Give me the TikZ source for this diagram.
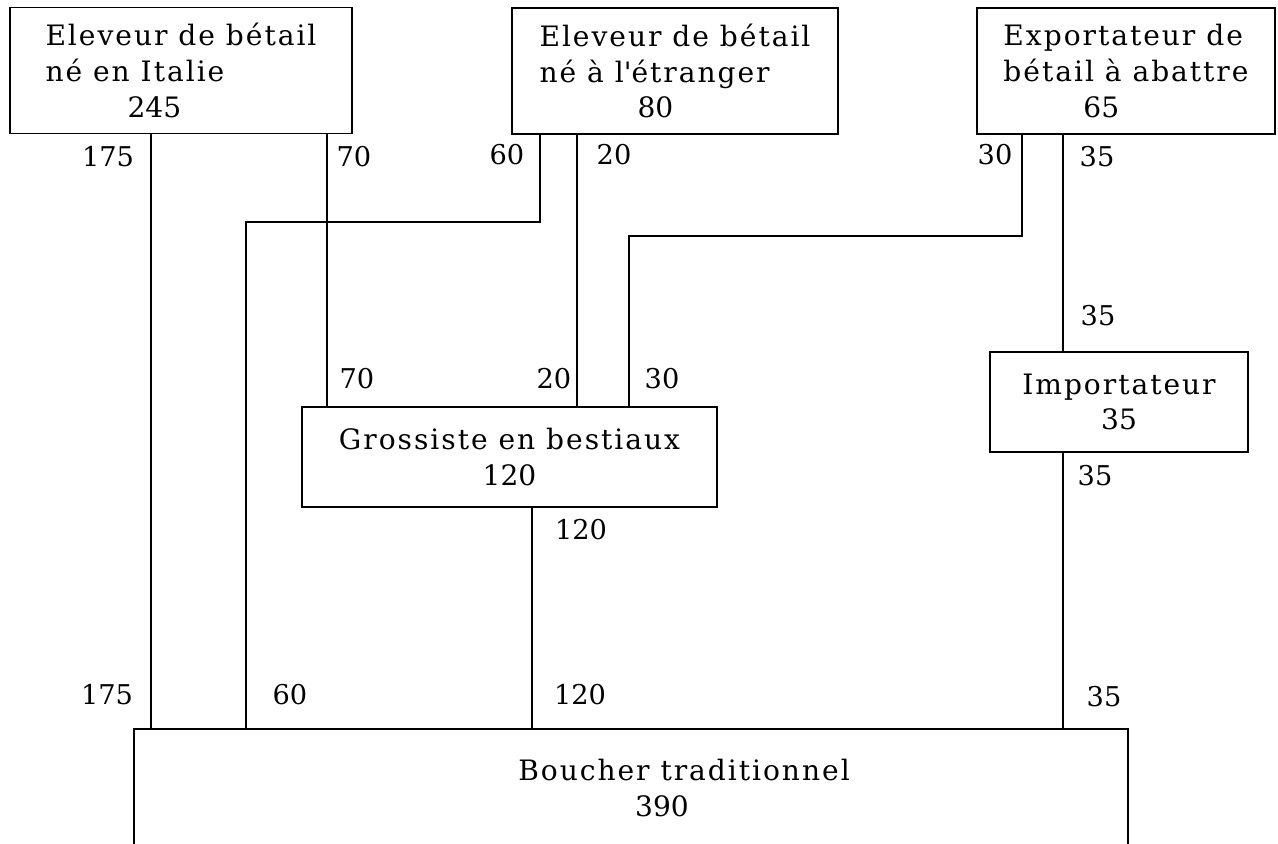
\documentclass[tikz,border=0pt]{standalone}
\usepackage{fontspec}
\setmainfont{DejaVu Serif}
\newfontfamily\boxfont{DejaVu Serif}[LetterSpace=7]
\newfontfamily\numfont{DejaVu Serif}
\usepackage{tikz}
\usetikzlibrary{positioning}

\begin{document}
\begin{tikzpicture}[x=0.02cm,y=-0.02cm,
  box/.style={rectangle,draw,line width=1.1pt,inner sep=0pt,
              font=\boxfont\fontsize{16}{20.4}\selectfont},
  num/.style={inner sep=0pt,font=\numfont\fontsize{15.5}{20}\selectfont},
  link/.style={line width=0.8pt}
]
  \useasboundingbox (0,0) rectangle (1278,843);

  % ---------------- boxes ----------------
  \node[box,minimum width=6.84cm,minimum height=2.52cm,align=left] (ital) at (181,70.5)
    {Eleveur de bétail\\né en Italie\\\hspace*{1.64cm}{\numfont 245}};
  \node[box,minimum width=6.52cm,minimum height=2.52cm,align=left] (etr) at (675,71)
    {Eleveur de bétail\\né à l\textquotesingle étranger\\\hspace*{1.96cm}{\numfont 80}};
  \node[box,minimum width=5.96cm,minimum height=2.52cm,align=left] (expo) at (1126,71)
    {Exportateur de\\bétail à abattre\\\hspace*{1.6cm}{\numfont 65}};
  \node[box,minimum width=8.30cm,minimum height=2cm,align=center] (gros) at (509.5,457)
    {Grossiste en bestiaux\\{\numfont 120}};
  \node[box,minimum width=5.16cm,minimum height=2cm,align=center] (impo) at (1119,402)
    {Importateur\\{\numfont 35}};
  \node[box,draw=none,minimum width=19.84cm,minimum height=2.26cm] (bouch) at (631,786.5) {};
  \draw[line width=1.1pt] (bouch.south west) |- (bouch.north east) -- (bouch.south east);
  \node[box,draw=none,align=left] (bouchtxt) at (684,788)
    {Boucher traditionnel\\\hspace*{2.34cm}{\numfont 390}};

  % ---------------- line positions ----------------
  \coordinate (x175) at (151,0);
  \coordinate (x70)  at (327,0);
  \coordinate (x20)  at (577,0);
  \coordinate (x35)  at (1063,0);
  \coordinate (x120) at (532,0);
  \coordinate (k60a) at (540,222);
  \coordinate (k60b) at (246,222);
  \coordinate (k30a) at (1022,236);
  \coordinate (k30b) at (629,236);

  \draw[link] (ital.south -| x175) -- (bouch.north -| x175);
  \draw[link] (ital.south -| x70) -- (gros.north -| x70);
  \draw[link] (etr.south -| k60a) -- (k60a) -- (k60b) -- (bouch.north -| k60b);
  \draw[link] (etr.south -| x20) -- (gros.north -| x20);
  \draw[link] (expo.south -| k30a) -- (k30a) -- (k30b) -- (gros.north -| k30b);
  \draw[link] (expo.south -| x35) -- (impo.north -| x35);
  \draw[link] (impo.south -| x35) -- (bouch.north -| x35);
  \draw[link] (gros.south -| x120) -- (bouch.north -| x120);

  % ---------------- quantities ----------------
  \node[num] (n175a) at (108,157) {175};
  \node[num] (n175b) at (107,695) {175};
  \node[num] (n70a)  at (354,157) {70};
  \node[num] (n70b)  at (357,379) {70};
  \node[num] (n60a)  at (507,155) {60};
  \node[num] (n60b)  at (290,695) {60};
  \node[num] (n20a)  at (614,155) {20};
  \node[num] (n20b)  at (554,379) {20};
  \node[num] (n30a)  at (995,155) {30};
  \node[num] (n30b)  at (662,379) {30};
  \node[num] (n35a)  at (1097,157) {35};
  \node[num] (n35b)  at (1098,316) {35};
  \node[num] (n35c)  at (1095,476) {35};
  \node[num] (n35d)  at (1104,697) {35};
  \node[num] (n120a) at (581,530) {120};
  \node[num] (n120b) at (580,695) {120};
\end{tikzpicture}
\end{document}
